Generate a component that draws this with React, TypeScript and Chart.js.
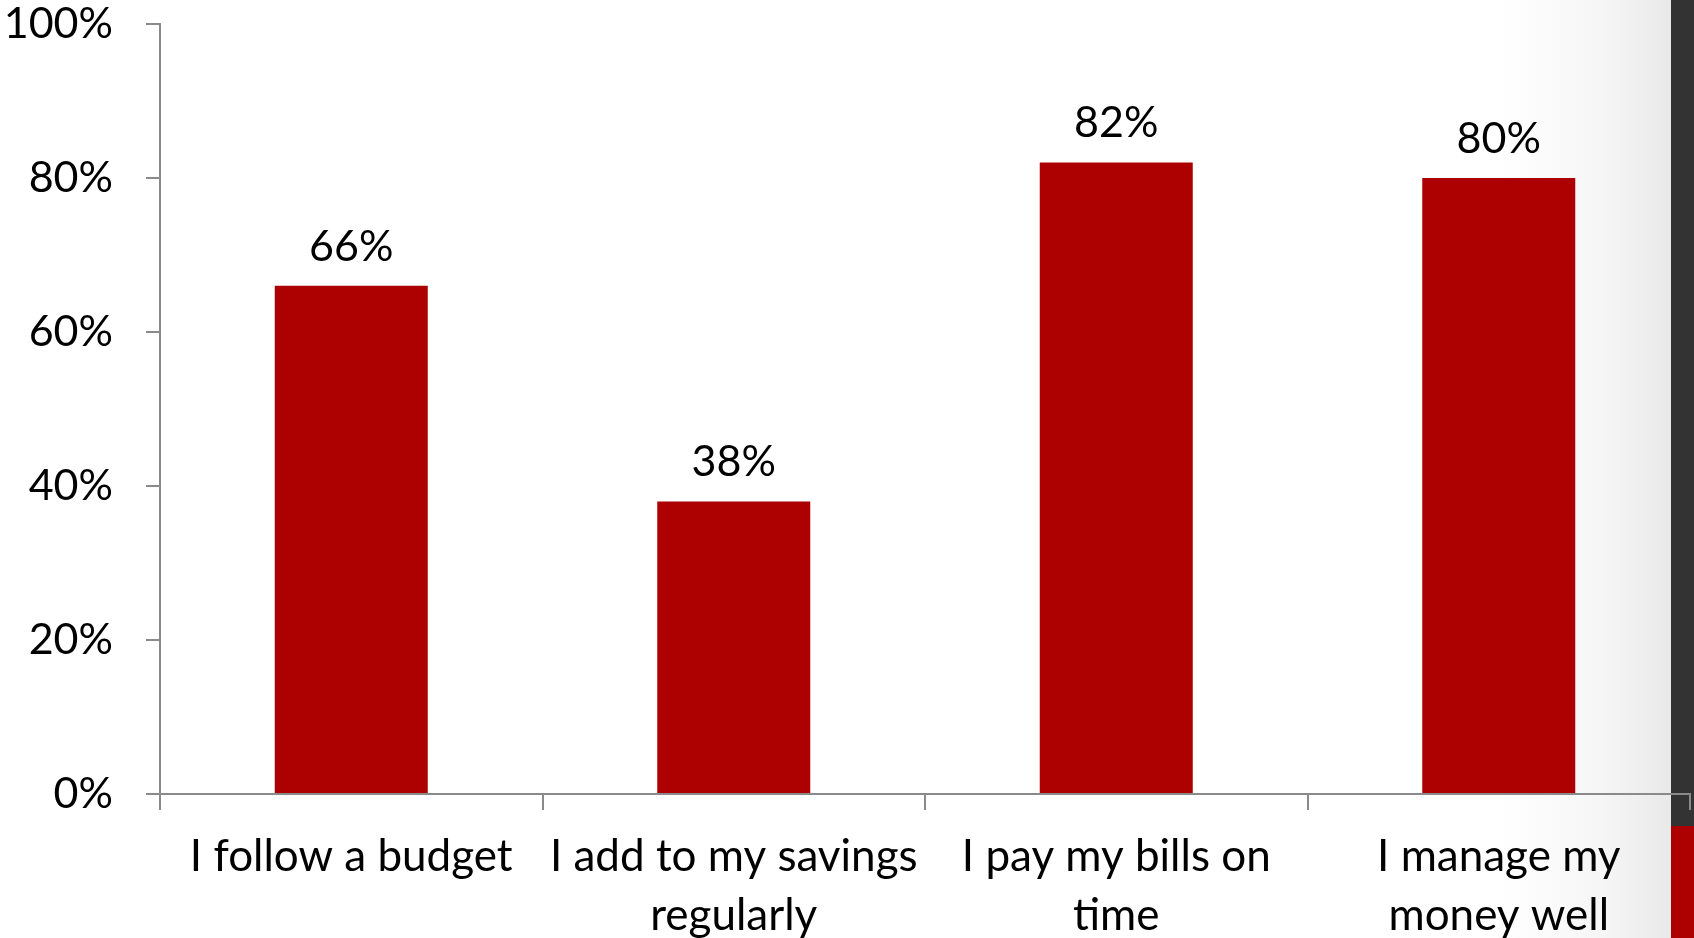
import React, { useEffect, useRef } from "react";
import { Chart, registerables } from "chart.js";

Chart.register(...registerables);

const categories: string[][] = [
  ["I follow a budget"],
  ["I add to my savings", "regularly"],
  ["I pay my bills on", "time"],
  ["I manage my", "money well"],
];
const values: number[] = [66, 38, 82, 80];
const yTicks: number[] = [0, 20, 40, 60, 80, 100];

const BAR_COLOR = "#AD0000";
const AXIS_COLOR = "#8A8A8A";
const FONT = "Lato, 'Open Sans', sans-serif";

const valueLabels = {
  id: "valueLabels",
  afterDatasetsDraw(chart: any) {
    const ctx = chart.ctx;
    const meta = chart.getDatasetMeta(0);
    ctx.save();
    ctx.font = `43px ${FONT}`;
    ctx.fillStyle = "#000";
    ctx.textAlign = "center";
    ctx.textBaseline = "middle";
    meta.data.forEach((bar: any, i: number) => {
      ctx.fillText(`${values[i]}%`, bar.x, bar.y - 39);
    });
    ctx.restore();
  },
};

export default function App() {
  const ref = useRef<HTMLCanvasElement>(null);
  useEffect(() => {
    document.body.style.margin = "0";
    const chart = new Chart(ref.current!, {
      type: "bar",
      data: {
        labels: categories,
        datasets: [
          {
            data: values,
            backgroundColor: BAR_COLOR,
            borderWidth: 0,
            categoryPercentage: 0.4,
            barPercentage: 1,
          },
        ],
      },
      options: {
        animation: false,
        responsive: false,
        maintainAspectRatio: false,
        layout: { padding: { left: 0, right: 4, top: 0, bottom: 0 } },
        plugins: { legend: { display: false }, tooltip: { enabled: false } },
        scales: {
          x: {
            grid: {
              display: true,
              drawOnChartArea: false,
              drawTicks: true,
              tickLength: 16,
              tickColor: AXIS_COLOR,
              lineWidth: 2,
              offset: true,
            },
            border: { display: true, color: AXIS_COLOR, width: 2 },
            ticks: {
              color: "#000",
              padding: 18,
              maxRotation: 0,
              autoSkip: false,
              font: { family: FONT, size: 44, lineHeight: 1.33 },
            },
            afterFit: (s: any) => {
              s.height = 144;
              s.paddingLeft = 0;
              s.paddingRight = 0;
            },
          },
          y: {
            min: 0,
            max: 100,
            afterBuildTicks: (s: any) => {
              s.ticks = yTicks.map((v) => ({ value: v }));
            },
            grid: {
              display: true,
              drawOnChartArea: false,
              drawTicks: true,
              tickLength: 14,
              tickColor: AXIS_COLOR,
              lineWidth: 2,
            },
            border: { display: true, color: AXIS_COLOR, width: 2 },
            ticks: {
              color: "#000",
              padding: 33,
              callback: (v: any) => `${v}%`,
              font: { family: FONT, size: 43, lineHeight: 1.2 },
            },
            afterFit: (s: any) => {
              s.width = 160;
              s.paddingTop = 24;
              s.paddingBottom = 0;
            },
          },
        },
      },
      plugins: [valueLabels],
    });
    return () => chart.destroy();
  }, []);

  return (
    <div
      style={{
        position: "fixed",
        left: 0,
        top: 0,
        width: 1694,
        height: 938,
        overflow: "hidden",
        background:
          "linear-gradient(to right, #ffffff 0px, #ffffff 1500px, #f6f6f6 1600px, #e9e9e9 1671px)",
      }}
    >
      <div style={{ position: "absolute", left: 1671, top: 0, width: 23, height: 826, background: "#333333" }} />
      <div style={{ position: "absolute", left: 1671, top: 826, width: 23, height: 112, background: BAR_COLOR }} />
      <canvas
        ref={ref}
        width={1694}
        height={938}
        style={{ position: "absolute", left: 0, top: 0, width: 1694, height: 938 }}
      />
    </div>
  );
}
